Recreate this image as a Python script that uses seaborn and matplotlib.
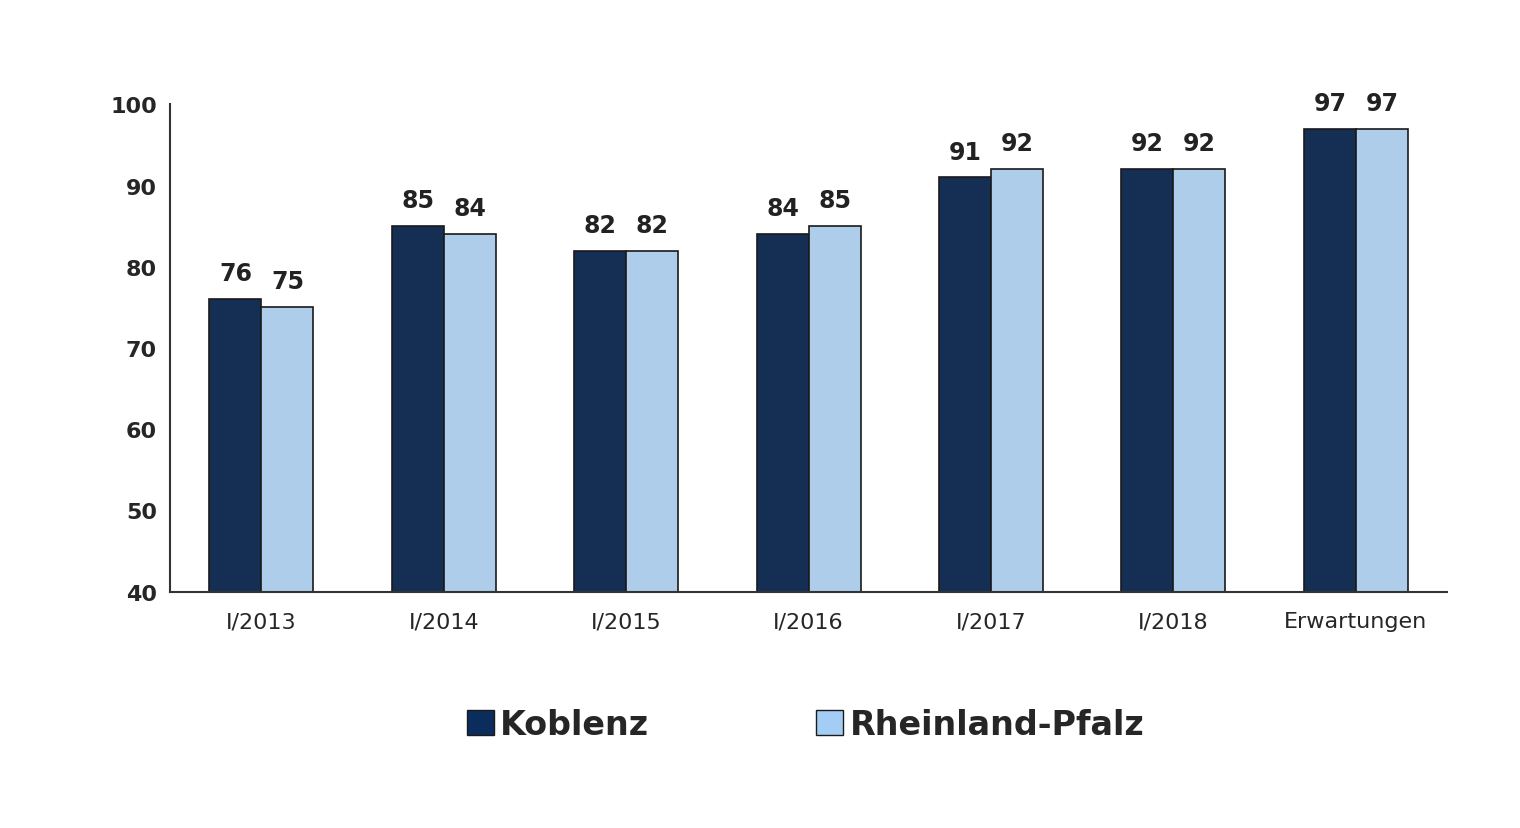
import pandas as pd
import numpy as np
import matplotlib
matplotlib.use("Agg")
import matplotlib.pyplot as plt
import seaborn as sns

categories = ["I/2013", "I/2014", "I/2015", "I/2016", "I/2017", "I/2018", "Erwartungen"]
koblenz = [76, 85, 82, 84, 91, 92, 97]
rlp = [75, 84, 82, 85, 92, 92, 97]
series = ["Koblenz", "Rheinland-Pfalz"]
colors = ["#0b2d5e", "#a3cdf5"]

df = pd.DataFrame({
    "cat": categories * 2,
    "val": koblenz + rlp,
    "region": [series[0]] * len(categories) + [series[1]] * len(categories),
})

plt.rcParams["font.family"] = "Liberation Sans"
sns.set_style("white")
fig = plt.figure(figsize=(15.2, 8.29), dpi=100)
ax = fig.add_axes([0.112, 0.285, 0.84, 0.588])

sns.barplot(data=df, x="cat", y="val", hue="region", palette=colors,
            width=0.57, edgecolor="#1a1a1a", linewidth=1.2, ax=ax, legend=False)

for c in ax.containers:
    ax.bar_label(c, fmt="%d", padding=10, fontsize=17, fontweight="bold", color="#222222")

ax.set_ylim(40, 100)
ax.set_xlim(-0.5, len(categories) - 0.5)
ax.set_yticks(range(40, 101, 10))
ax.set_xlabel("")
ax.set_ylabel("")
for s in ["top", "right"]:
    ax.spines[s].set_visible(False)
for s in ["left", "bottom"]:
    ax.spines[s].set_color("#333333")
    ax.spines[s].set_linewidth(1.5)
ax.tick_params(axis="y", length=6, width=1.5, color="#333333", labelsize=16)
for t in ax.get_yticklabels():
    t.set_fontweight("bold")
ax.tick_params(axis="x", length=0, labelsize=16, pad=14)
ax.set_xticks(np.arange(-0.5, len(categories)), minor=True)
ax.tick_params(axis="x", which="minor", length=6, width=1.5, color="#333333")

handles = [plt.Rectangle((0, 0), 1, 1, facecolor=c, edgecolor="#1a1a1a") for c in colors]
fig.legend(handles, series, loc="center", bbox_to_anchor=(0.53, 0.125), ncol=2,
           frameon=False, prop={"size": 24, "weight": "bold"},
           handlelength=0.8, handleheight=0.8, handletextpad=0.2, columnspacing=5)

fig.savefig("out.png", dpi=100)
